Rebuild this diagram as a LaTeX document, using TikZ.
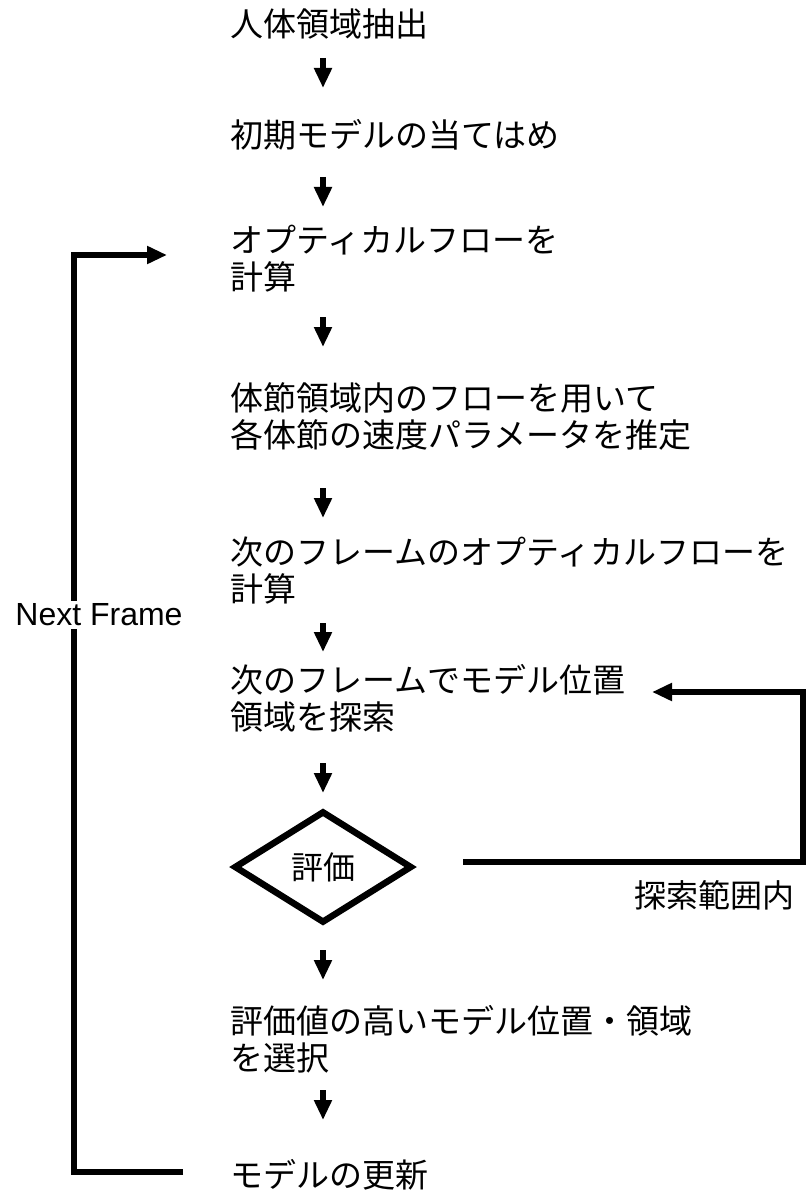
\documentclass[tikz,border=0pt]{standalone}
\usepackage{fontspec}
\setmainfont{Noto Sans CJK JP}
\newfontfamily\latinsans{Liberation Sans}
\usetikzlibrary{arrows.meta,shapes.geometric}
\begin{document}
\begin{tikzpicture}[x=1pt,y=-1pt,
  lbl/.style={anchor=west, align=left, inner sep=0pt, font=\fontsize{33}{37}\selectfont},
  side/.style={inner sep=0pt, font=\fontsize{32}{37}\selectfont},
  wire/.style={line width=6.5pt, line join=miter},
  flow/.style={line width=6.5pt, line join=miter, -{Triangle[length=20pt,width=17pt]}},
  decision/.style={diamond, draw, line width=6.5pt, minimum width=178pt, minimum height=112pt, inner sep=0pt, aspect=1.6, font=\fontsize{32}{37}\selectfont}]
\useasboundingbox (0,0) rectangle (807,1198);
\fill[white] (0,0) rectangle (807,1198);

% step texts
\node[lbl] (b1) at (230,24) {人体領域抽出};
\node[lbl] (b2) at (230,135) {初期モデルの当てはめ};
\node[lbl] (b3) at (230,259) {オプティカルフローを\\計算};
\node[lbl] (b4) at (230,416) {体節領域内のフローを用いて\\各体節の速度パラメータを推定};
\node[lbl] (b5) at (230,571) {次のフレームのオプティカルフローを\\計算};
\node[lbl] (b6) at (230,698) {次のフレームでモデル位置\\領域を探索};
\node[decision] (d) at (323,867) {評価};
\node[lbl] (b7) at (230,1039.5) {評価値の高いモデル位置・領域\\を選択};
\node[lbl] (b8) at (230,1175) {モデルの更新};

% short downward arrows
\foreach \i/\ya/\yb in {1/58/88, 2/177/207, 3/317/347, 4/488/518, 5/623/652, 6/763/793, 7/950/980, 8/1090/1120}{
  \coordinate (s\i) at (323,\ya);
  \coordinate (e\i) at (323,\yb);
  \draw[flow] (s\i) -- (e\i);
}

% loop back from evaluation
\coordinate (fbs) at (463,862);
\coordinate (fbc) at (803,692);
\coordinate (fbe) at (652,692);
\draw[flow] (fbs) -| (fbc) -- (fbe);
\node[side] (in) at (714,895) {探索範囲内};

% next frame loop
\coordinate (nfs) at (183,1172);
\coordinate (nfc) at (74,255);
\coordinate (nfe) at (167,255);
\draw[flow] (nfs) -| (nfc) -- (nfe);
\node[side, fill=white, inner ysep=3pt, font=\latinsans\fontsize{32}{37}\selectfont] (nf) at (99,615) {Next Frame};
\end{tikzpicture}
\end{document}
